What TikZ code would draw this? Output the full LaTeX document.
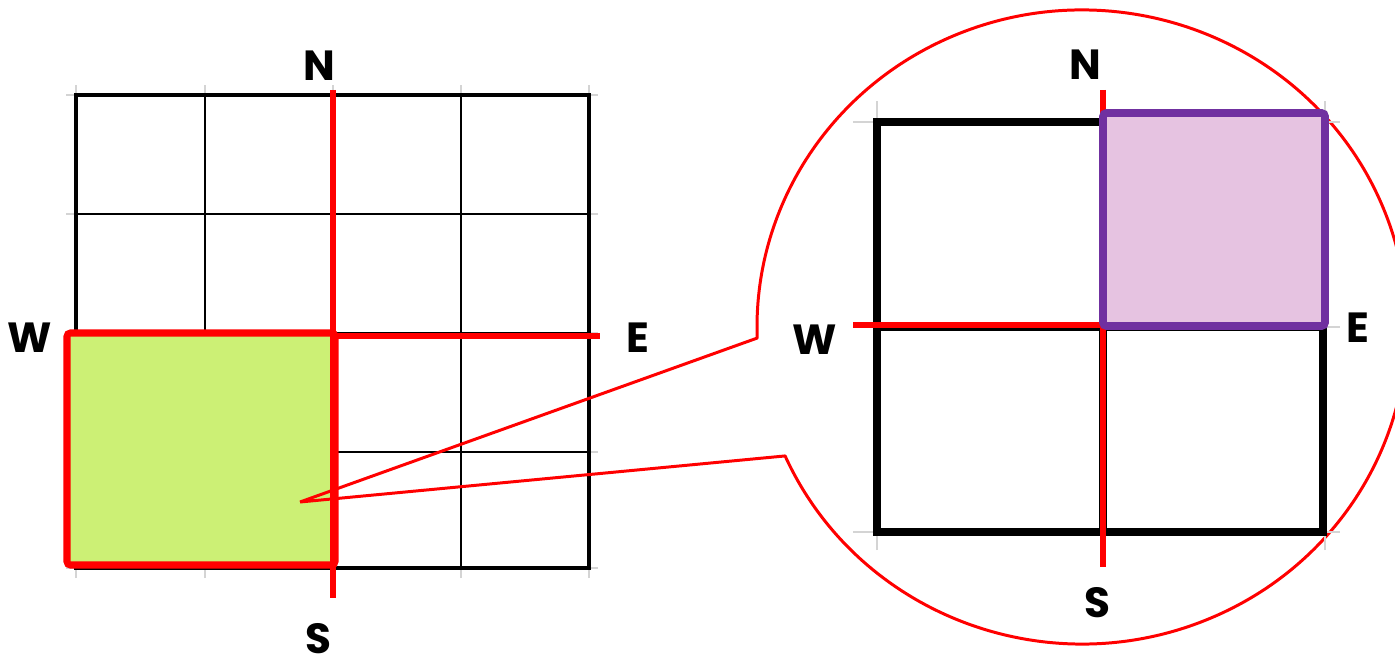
\documentclass[tikz,border=0pt]{standalone}
\usepackage{fontspec}
\setmainfont{Poppins}
\usepackage{tikz}
\usetikzlibrary{calc}
\definecolor{lime}{RGB}{204,240,117}
\definecolor{lilac}{RGB}{230,195,225}
\definecolor{violet}{RGB}{112,48,160}
\definecolor{tickgray}{RGB}{212,212,212}

\begin{document}
\begin{tikzpicture}
\tikzstyle{every node}=[font=\fontsize{12}{14}\selectfont\bfseries,inner sep=1pt]
\tikzstyle{ticks}=[tickgray,line width=0.6pt]
\tikzstyle{thin grid}=[black,line width=0.6pt]
\tikzstyle{thick grid}=[black,line width=2.1pt]
\tikzstyle{axis}=[red,line width=1.7pt]
%\draw [red!40](0,0) grid (14,7);
\useasboundingbox (0,0) rectangle (13.95,6.64);
\clip (0,0) rectangle (13.95,6.64);

% big grid
\foreach \x in {0.76,2.05,3.33,4.61,5.89}{
  \draw [ticks] (\x,0.86) -- (\x,5.79);
  \draw [thin grid] (\x,0.96) -- (\x,5.69);
}
\foreach \y in {5.69,4.50,3.31,2.12,0.96}{
  \draw [ticks] (0.66,\y) -- (5.98,\y);
  \draw [thin grid] (0.76,\y) -- (5.89,\y);
}
\draw [black,line width=1pt] (0.76,0.96) rectangle (5.89,5.69);

\coordinate (BS) at (0.67,0.99);
\coordinate (BN) at (3.35,3.31);
\draw [red,line width=2pt,rounded corners=1pt,fill=lime] (BS) rectangle (BN);
\draw [axis] (3.33,5.74) -- (3.33,0.66);
\draw [axis] (3.33,3.28) -- (6.00,3.28);

\node at (3.19,5.98) {N};
\node at (3.18,0.25) {S};
\node at (0.30,3.26) {W};
\node at (6.38,3.26) {E};

% zoom
\coordinate (P) at (3.00,1.62);
\coordinate (Z) at (10.82,3.37);
\draw [red,line width=0.85pt,line join=round]
  (P) -- ($(Z)+(204:3.25 and 3.17)$)
  arc[start angle=204,end angle=542,x radius=3.25,y radius=3.17] -- (P);

% small grid
\foreach \x in {8.77,11.03,13.25}
  \draw [ticks] (\x,1.14) -- (\x,5.63);
\foreach \y in {5.42,3.37,1.32}
  \draw [ticks] (8.53,\y) -- (13.40,\y);
\draw [thick grid] (8.77,1.32) rectangle (13.23,5.42);
\draw [thick grid] (8.77,3.37) -- (13.23,3.37);
\draw [thick grid] (11.03,1.32) -- (11.03,5.42);

\draw [axis] (11.03,5.74) -- (11.03,0.97);
\draw [axis] (8.53,3.39) -- (11.03,3.39);
\draw [violet,line width=2.2pt,rounded corners=1pt,fill=lilac] (11.03,3.38) rectangle (13.25,5.51);

\node at (10.85,5.99) {N};
\node at (10.97,0.61) {S};
\node at (8.15,3.24) {W};
\node at (13.58,3.36) {E};
\end{tikzpicture}
\end{document}
